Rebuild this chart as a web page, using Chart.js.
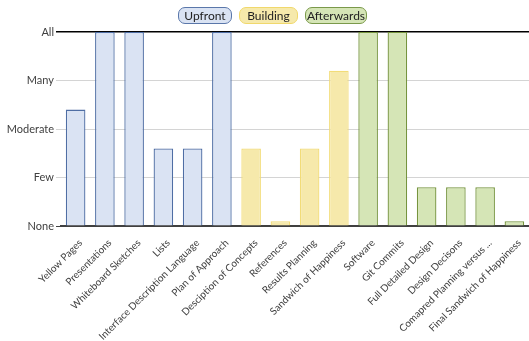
<!DOCTYPE html>
<html>
<head>
<meta charset="utf-8">
<script src="https://cdn.jsdelivr.net/npm/chart.js@4"></script>
<style>
    body { margin: 0; background: #fff; }
    #wrap { position: relative; width: 529px; height: 341px; }
    .legend-item {
        position: absolute;
        top: 7px;
        height: 15px;
        border: 1.5px solid;
        border-radius: 7px;
        font: 12px Lato, "Open Sans", sans-serif;
        color: #222;
        line-height: 15px;
        text-align: center;
        box-sizing: content-box;
    }
</style>
</head>
<body>
<div id="wrap">
    <canvas id="chart" width="529" height="341"></canvas>
    <div class="legend-item" style="left:178px;width:52px;background:#dae3f3;border-color:#5a77aa;">Upfront</div>
    <div class="legend-item" style="left:239px;width:57px;background:#f6e9ab;border-color:#f0d86c;">Building</div>
    <div class="legend-item" style="left:305px;width:60px;background:#d5e5b6;border-color:#7a994a;">Afterwards</div>
</div>
<script>
// Categorías y valores (0 = None ... 4 = All)
const categories = [
    'Yellow Pages', 'Presentations', 'Whiteboard Sketches', 'Lists',
    'Interface Description Language', 'Plan of Approach', 'Desciption of Concepts',
    'References', 'Results Planning', 'Sandwich of Happiness', 'Software',
    'Git Commits', 'Full Detailed Design', 'Design Decisons',
    'Comapred Planning versus ...', 'Final Sandwich of Happiness'
];
const upfront    = [2.4, 4, 4, 1.6, 1.6, 4, null, null, null, null, null, null, null, null, null, null];
const building   = [null, null, null, null, null, null, 1.6, 0.1, 1.6, 3.2, null, null, null, null, null, null];
const afterwards = [null, null, null, null, null, null, null, null, null, null, 4, 4, 0.8, 0.8, 0.8, 0.1];
const levelLabels = ['None', 'Few', 'Moderate', 'Many', 'All'];

const font = { family: 'Lato, "Open Sans", sans-serif', size: 11 };

function makeSet(label, data, fill, border) {
    return {
        label: label,
        data: data,
        backgroundColor: fill,
        borderColor: border,
        borderWidth: 1.3,
        barPercentage: 0.67,
        categoryPercentage: 1
    };
}

new Chart(document.getElementById('chart'), {
    type: 'bar',
    data: {
        labels: categories,
        datasets: [
            makeSet('Upfront', upfront, '#dae3f3', '#4f6ea4'),
            makeSet('Building', building, '#f6e9ab', '#f2dc78'),
            makeSet('Afterwards', afterwards, '#d5e5b6', '#76943e')
        ]
    },
    options: {
        responsive: false,
        animation: false,
        layout: { padding: { top: 32, right: 0, left: 0, bottom: 0 } },
        plugins: {
            legend: { display: false },
            tooltip: { enabled: false }
        },
        scales: {
            x: {
                stacked: true,
                grid: { display: false },
                border: { color: '#404040', width: 1.5 },
                ticks: {
                    font: { family: font.family, size: 10 },
                    color: '#404040',
                    maxRotation: 45,
                    minRotation: 45,
                    autoSkip: false,
                    padding: 3,
                    labelOffset: 5
                },
                afterFit: function(scale) { scale.height = 115; }
            },
            y: {
                stacked: true,
                min: 0,
                max: 4,
                border: { display: false },
                grid: {
                    color: ctx => (ctx.index === 4 ? '#000' : (ctx.index === 0 ? '#404040' : '#d4d4d4')),
                    lineWidth: ctx => (ctx.index === 4 ? 1.5 : 1),
                    tickLength: 5
                },
                ticks: {
                    stepSize: 1,
                    font: font,
                    color: '#404040',
                    padding: 2,
                    callback: v => levelLabels[v]
                },
                afterFit: function(scale) { scale.width = 61; }
            }
        }
    }
});
</script>
</body>
</html>
